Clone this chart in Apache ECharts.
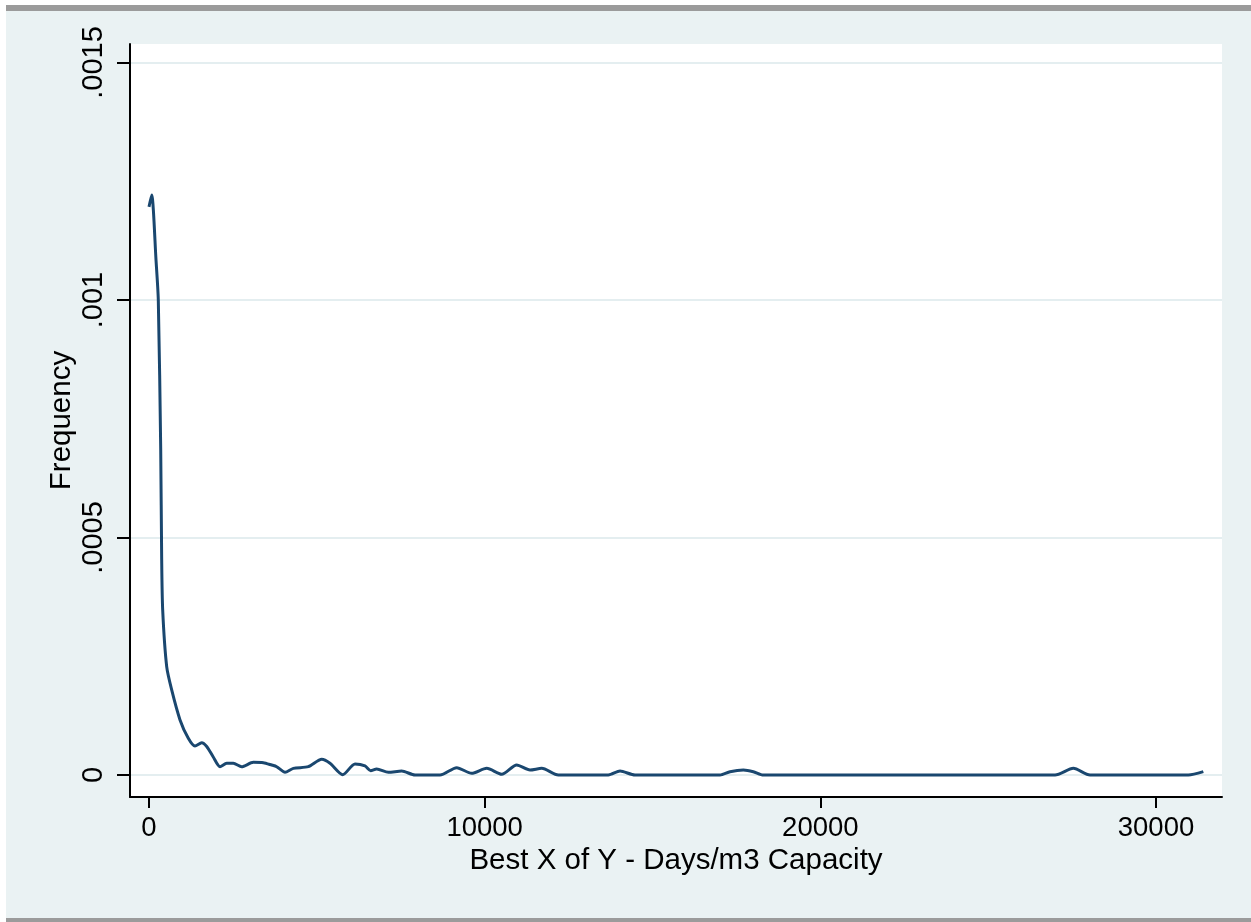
<!DOCTYPE html>
<html>
<head>
<meta charset="utf-8">
<script src="https://cdn.jsdelivr.net/npm/echarts@6/dist/echarts.min.js"></script>
<style>
html,body{margin:0;padding:0;background:#ffffff;}
#chart{width:1251px;height:922px;}
</style>
</head>
<body>
<div id="chart"></div>
<script>
// Density curve
var xValues = [0, 80, 209, 277, 349, 378, 408, 527, 676, 924, 1171, 1370, 1570, 1719, 1910, 2115, 2315, 2512, 2760, 3108, 3406, 3654, 3803, 4052, 4300, 4747, 5145, 5392, 5770, 6137, 6435, 6604, 6783, 7130, 7528, 7924, 8669, 9166, 9613, 10060, 10507, 10954, 11350, 11699, 12194, 13683, 14031, 14478, 17010, 17308, 17705, 18003, 18301, 26990, 27536, 28033, 30961, 31408];
var yValues = [0.001196, 0.001221, 0.001084, 0.001000, 0.000684, 0.000453, 0.000347, 0.000228, 0.000179, 0.000116, 0.0000773, 0.000061, 0.000068, 0.00006, 0.0000385, 0.0000175, 0.0000246, 0.0000246, 0.0000175, 0.0000267, 0.000026, 0.000021, 0.0000175, 0.0000057, 0.000014, 0.0000175, 0.000033, 0.0000246, 0.0000005, 0.0000232, 0.000019, 0.000009, 0.0000126, 0.0000057, 0.0000084, 0, 0, 0.0000154, 0.0000035, 0.000014, 0.0000014, 0.000021, 0.0000105, 0.000014, 0, 0, 0.0000084, 0, 0, 0.000007, 0.0000105, 0.000007, 0, 0, 0.000014, 0, 0, 0.000007];
var yTicks = [0, 0.0005, 0.001, 0.0015];
var yTickLabels = ['0', '.0005', '.001', '.0015'];
var xTicks = [0, 10000, 20000, 30000];
var xTickLabels = ['0', '10000', '20000', '30000'];
var xTitle = 'Best X of Y - Days/m3 Capacity';
var yTitle = 'Frequency';

var points = xValues.map(function (x, i) { return [x, yValues[i]]; });
var FONT = '"Liberation Sans", Arial, Helvetica, sans-serif';

var chart = echarts.init(document.getElementById('chart'));
chart.setOption({
  backgroundColor: '#ffffff',
  animation: false,
  graphic: [
    { type: 'rect', z: -10, shape: { x: 6, y: 10, width: 1245, height: 909 }, style: { fill: '#eaf2f3' } },
    { type: 'rect', z: -9, shape: { x: 6, y: 5, width: 1245, height: 6 }, style: { fill: '#9b9b9b' } },
    { type: 'rect', z: -9, shape: { x: 6, y: 918, width: 1245, height: 4 }, style: { fill: '#9b9b9b' } }
  ],
  grid: [
    { left: 130, right: 29, top: 44, bottom: 125, show: true, backgroundColor: '#ffffff', borderWidth: 0, z: 0 },
    { left: 130, right: 29, top: 62.5, bottom: 147, show: false },
    { left: 149, width: 1007, top: 44, bottom: 125, show: false }
  ],
  xAxis: [
    {
      gridIndex: 0, type: 'value', min: -566, max: 31964,
      axisLine: { show: true, onZero: false, lineStyle: { color: '#000', width: 2 } },
      axisTick: { show: false }, axisLabel: { show: false }, splitLine: { show: false },
      name: xTitle, nameLocation: 'middle', nameGap: 49,
      nameTextStyle: { fontFamily: FONT, fontSize: 29.5, color: '#000' }
    },
    { gridIndex: 1, type: 'value', min: 0, max: 1, show: false },
    {
      gridIndex: 2, type: 'value', min: 0, max: 30000, interval: 10000,
      axisLine: { show: false, onZero: false },
      axisTick: { show: true, length: 11, lineStyle: { color: '#000', width: 2 } },
      splitLine: { show: false },
      axisLabel: {
        margin: 17, fontFamily: FONT, fontSize: 27.5, color: '#000',
        formatter: function (v) { var i = xTicks.indexOf(v); return i >= 0 ? xTickLabels[i] : ''; }
      }
    }
  ],
  yAxis: [
    {
      gridIndex: 0, type: 'value', min: -0.0000463, max: 0.0015389,
      axisLine: { show: true, onZero: false, lineStyle: { color: '#000', width: 2 } },
      axisTick: { show: false }, axisLabel: { show: false }, splitLine: { show: false },
      name: yTitle, nameLocation: 'middle', nameGap: 53,
      nameTextStyle: { fontFamily: FONT, fontSize: 29.5, color: '#000' }
    },
    {
      gridIndex: 1, type: 'value', min: 0, max: 0.0015, interval: 0.0005,
      axisLine: { show: false, onZero: false },
      axisTick: { show: true, length: 13, lineStyle: { color: '#000', width: 2 } },
      splitLine: { show: true, lineStyle: { color: '#e4eef0', width: 2 } },
      axisLabel: {
        rotate: 90, margin: 22, fontFamily: FONT, fontSize: 29, color: '#000',
        formatter: function (v) {
          for (var i = 0; i < yTicks.length; i++) { if (Math.abs(yTicks[i] - v) < 1e-9) return yTickLabels[i]; }
          return '';
        }
      }
    },
    { gridIndex: 2, type: 'value', min: 0, max: 1, show: false }
  ],
  series: [
    {
      type: 'line', xAxisIndex: 0, yAxisIndex: 0, data: points,
      showSymbol: false, smooth: 0.25,
      lineStyle: { color: '#1a476f', width: 3 }, z: 5
    }
  ]
});
</script>
</body>
</html>
